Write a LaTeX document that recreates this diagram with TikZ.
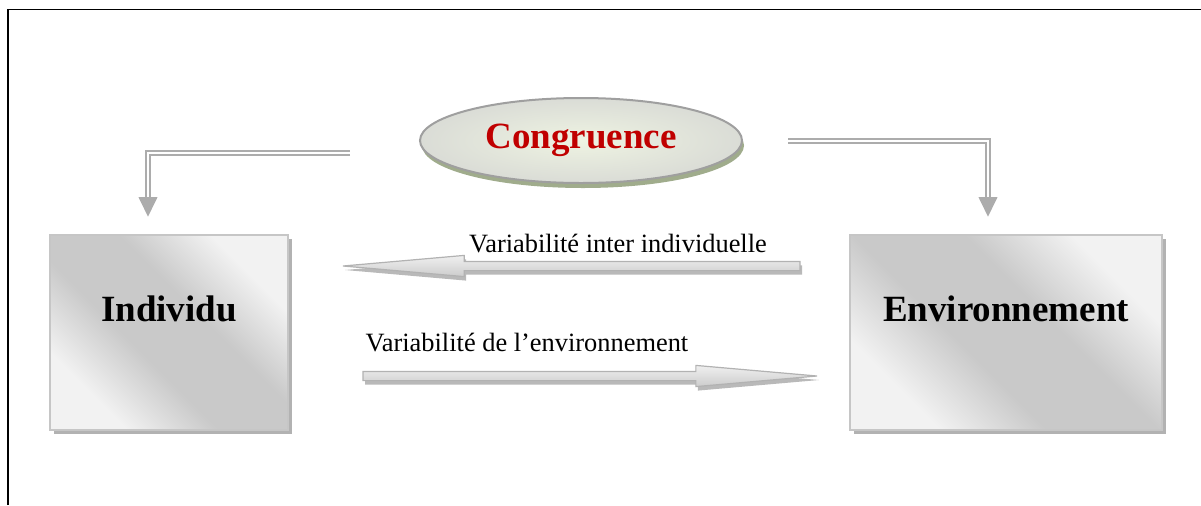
\documentclass[tikz,border=0pt]{standalone}
\usepackage{fontspec}
\setmainfont{Liberation Serif}
\usetikzlibrary{positioning,shapes.geometric,shapes.arrows,shadows,arrows.meta}
\definecolor{congred}{RGB}{192,0,0}
\definecolor{congin}{RGB}{238,243,226}
\definecolor{congout}{RGB}{218,220,214}
\definecolor{congshadow}{RGB}{160,172,140}
\pgfdeclarehorizontalshading{boxshade}{100bp}{color(0bp)=(gray!10); color(27bp)=(gray!10);
  color(42bp)=(gray!42); color(58bp)=(gray!42); color(73bp)=(gray!10); color(100bp)=(gray!10)}

\begin{document}
\begin{tikzpicture}[x=0.5pt, y=-0.5pt,
  box/.style = {draw=gray!45, line width=1pt, minimum height=97.5pt, text depth=24pt,
    shading=boxshade, shading angle=45,
    drop shadow={shadow xshift=2pt, shadow yshift=-2pt, fill=gray!60, opacity=1},
    font=\fontsize{18.5}{22}\selectfont\bfseries},
  cong/.style = {ellipse, draw=gray!75, line width=1pt, minimum width=161pt, minimum height=42.5pt,
    inner color=congin, outer color=congout,
    drop shadow={shadow xshift=1pt, shadow yshift=-2.5pt, fill=congshadow, opacity=1},
    text=congred, font=\fontsize{18.5}{22}\selectfont\bfseries},
  fat/.style = {single arrow, draw=gray!60, line width=0.6pt, inner sep=2pt, outer sep=0pt,
    single arrow head extend=3pt, single arrow tip angle=10,
    top color=gray!12, bottom color=gray!40, anchor=tip,
    drop shadow={shadow xshift=1pt, shadow yshift=-2pt, fill=gray!55, opacity=1}},
  dline/.style = {draw=gray!65, double=white, double distance=1pt, line width=1pt},
  dhead/.style = {draw=gray!65, line width=2pt, -{Triangle[width=9pt,length=10pt]}},
  lbl/.style = {anchor=base, inner sep=0pt, font=\fontsize{13.2}{16}\selectfont}]
\useasboundingbox (0,0) rectangle (1201,505);
\draw[line width=0.75pt] (8,505) |- (1201,9.5);

\node[box, minimum width=119pt] (ind) at (169,332.5) {Individu};
\node[box, minimum width=156pt] (env) at (1006,332.5) {Environnement};
\node[cong] (congr) at (581,140.5) {Congruence\hspace{10pt}};

% congruence vers les deux pôles
\coordinate (l1) at (350,152.5);
\coordinate (l2) at (148,197);
\coordinate (l3) at (148,217);
\coordinate (r1) at (788,141);
\coordinate (r2) at (988,197);
\coordinate (r3) at (988,217);
\draw[dline] (l1) -| (l2);
\draw[dhead] (l2) -- (l3);
\draw[dline] (r1) -| (r2);
\draw[dhead] (r2) -- (r3);

% variabilités
\node[fat, minimum height=228.5pt, shape border rotate=180] (vei) at (343,266) {};
\node[fat, minimum height=227pt] (vie) at (817,376) {};
\node[lbl] (tei) at (618,252) {Variabilité inter individuelle};
\node[lbl] (tie) at (527,351) {Variabilité de l’environnement};
\end{tikzpicture}
\end{document}
